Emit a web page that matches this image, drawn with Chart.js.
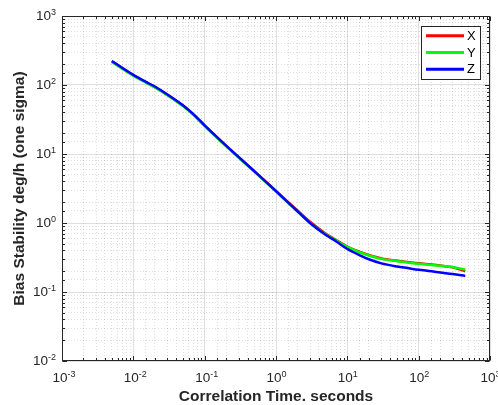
<!DOCTYPE html>
<html>
<head>
<meta charset="utf-8">
<script src="https://cdn.jsdelivr.net/npm/chart.js@4.4.1/dist/chart.umd.min.js"></script>
<style>
  html, body { margin: 0; padding: 0; background: #fff; }
  #wrap { width: 498px; height: 405px; }
</style>
</head>
<body>
<div id="wrap"><canvas id="biasChart" width="498" height="405"></canvas></div>
<script>
// Correlation time (s) and bias stability (deg/h, one sigma) per axis
const tau   = [0.005, 0.007, 0.01, 0.015, 0.02, 0.03, 0.05, 0.07, 0.1, 0.2, 0.5, 1, 2, 3, 5, 7, 10, 15, 20, 30, 50, 70, 100, 150, 200, 300, 450];
const biasX = [220, 175, 138, 110, 93, 72, 50, 37.2, 25.7, 13.1, 5.6, 2.92, 1.52, 1.04, 0.7, 0.565, 0.455, 0.38, 0.343, 0.306, 0.284, 0.272, 0.26, 0.25, 0.242, 0.228, 0.2];
const biasY = [216, 172, 136, 108, 92, 71, 49, 36.8, 25.3, 12.9, 5.5, 2.85, 1.47, 1.0, 0.68, 0.555, 0.45, 0.375, 0.338, 0.302, 0.28, 0.268, 0.256, 0.247, 0.24, 0.229, 0.212];
const biasZ = [223, 177, 140, 111, 95, 73, 50.5, 37.5, 26, 13.2, 5.6, 2.9, 1.48, 1.0, 0.67, 0.54, 0.42, 0.34, 0.298, 0.26, 0.234, 0.222, 0.21, 0.2, 0.192, 0.182, 0.171];
const seriesNames = ['X', 'Y', 'Z'];

// decade tick labels (exponents of 10)
const xTickExps = [-3, -2, -1, 0, 1, 2, 3];
const yTickExps = [-2, -1, 0, 1, 2, 3];

const FONT = '"Liberation Sans", Arial, Helvetica, sans-serif';
const AXIS_COLOR = '#262626';
const MAJOR_GRID = 'rgba(38,38,38,0.15)';
const MINOR_GRID = 'rgba(38,38,38,0.15)';

const isDecade = v => Math.abs(Math.log10(v) - Math.round(Math.log10(v))) < 1e-6;
const toPoints = ys => ys.map((y, i) => ({ x: tau[i], y: y }));

// draws "10" with a raised exponent
function drawPow(ctx, x, y, exp, align) {
  const base = '10';
  const sup = String(exp);
  ctx.font = '13.5px ' + FONT;
  const wb = ctx.measureText(base).width;
  ctx.font = '9px ' + FONT;
  const ws = ctx.measureText(sup).width;
  let left;
  if (align === 'right') left = x - wb - ws;
  else left = x - wb / 2 - 2;
  ctx.fillStyle = AXIS_COLOR;
  ctx.textAlign = 'left';
  ctx.font = '13.5px ' + FONT;
  ctx.textBaseline = 'middle';
  ctx.fillText(base, left, y);
  ctx.font = '9px ' + FONT;
  ctx.textBaseline = 'alphabetic';
  ctx.fillText(sup, left + wb, y - 1.5);
}

const matlabAxes = {
  id: 'matlabAxes',
  afterDraw(chart) {
    const ctx = chart.ctx;
    const a = chart.chartArea;
    const xs = chart.scales.x;
    const ys = chart.scales.y;
    ctx.save();

    // box
    ctx.strokeStyle = AXIS_COLOR;
    ctx.lineWidth = 1;
    const L = Math.round(a.left) + 0.5, R = Math.round(a.right) - 0.5;
    const T = Math.round(a.top) + 0.5, B = Math.round(a.bottom) - 0.5;
    ctx.strokeRect(L, T, R - L, B - T);

    // inward ticks on all four sides
    ctx.beginPath();
    xs.ticks.forEach(t => {
      const px = Math.round(xs.getPixelForValue(t.value)) + 0.5;
      const len = isDecade(t.value) ? 4.5 : 2.5;
      ctx.moveTo(px, B); ctx.lineTo(px, B - len);
      ctx.moveTo(px, T); ctx.lineTo(px, T + len);
    });
    ys.ticks.forEach(t => {
      const py = Math.round(ys.getPixelForValue(t.value)) + 0.5;
      const len = isDecade(t.value) ? 4.5 : 2.5;
      ctx.moveTo(L, py); ctx.lineTo(L + len, py);
      ctx.moveTo(R, py); ctx.lineTo(R - len, py);
    });
    ctx.stroke();

    // tick labels
    xTickExps.forEach(e => {
      drawPow(ctx, xs.getPixelForValue(Math.pow(10, e)), a.bottom + 17, e, 'center');
    });
    yTickExps.forEach(e => {
      drawPow(ctx, a.left - 6, ys.getPixelForValue(Math.pow(10, e)), e, 'right');
    });

    // axis titles
    ctx.fillStyle = AXIS_COLOR;
    ctx.font = 'bold 15.5px ' + FONT;
    ctx.textAlign = 'center';
    ctx.textBaseline = 'middle';
    ctx.fillText('Correlation Time. seconds', (a.left + a.right) / 2, 397);
    ctx.save();
    ctx.translate(20, (a.top + a.bottom) / 2);
    ctx.rotate(-Math.PI / 2);
    ctx.fillText('Bias Stability deg/h (one sigma)', 0, 0);
    ctx.restore();

    // legend box in the upper right corner
    const bx = 421.5, by = 26.5, bw = 59, bh = 53;
    ctx.fillStyle = '#fff';
    ctx.fillRect(bx, by, bw, bh);
    ctx.strokeStyle = AXIS_COLOR;
    ctx.lineWidth = 1;
    ctx.strokeRect(bx, by, bw, bh);
    const rows = [35.7, 52.5, 69.3];
    chart.data.datasets.forEach((ds, i) => {
      ctx.strokeStyle = ds.borderColor;
      ctx.lineWidth = 3;
      ctx.beginPath();
      ctx.moveTo(426, rows[i]);
      ctx.lineTo(464, rows[i]);
      ctx.stroke();
      ctx.fillStyle = '#000';
      ctx.font = '13px ' + FONT;
      ctx.textAlign = 'left';
      ctx.textBaseline = 'middle';
      ctx.fillText(ds.label, 467, rows[i] + 0.5);
    });

    ctx.restore();
  }
};

const logAxis = (pos, min, max, gridColor, dash) => ({
  type: 'logarithmic',
  position: pos,
  min: min,
  max: max,
  grid: { color: gridColor, drawTicks: false, lineWidth: 1 },
  border: { display: false, dash: dash },
  ticks: { display: false }
});
const minorColor = c => (c.tick && !isDecade(c.tick.value)) ? MINOR_GRID : 'transparent';
const majorColor = c => (c.tick && isDecade(c.tick.value)) ? MAJOR_GRID : 'transparent';

new Chart(document.getElementById('biasChart'), {
  type: 'line',
  data: {
    datasets: [
      { label: seriesNames[0], data: toPoints(biasX), borderColor: '#ff0000', order: 3 },
      { label: seriesNames[1], data: toPoints(biasY), borderColor: '#00ff00', order: 2 },
      { label: seriesNames[2], data: toPoints(biasZ), borderColor: '#0000ff', order: 1 }
    ]
  },
  options: {
    responsive: false,
    animation: false,
    devicePixelRatio: 1,
    layout: { padding: { left: 62, right: 8, top: 16, bottom: 44 } },
    elements: {
      line: { borderWidth: 2.5, cubicInterpolationMode: 'monotone', fill: false },
      point: { radius: 0 }
    },
    scales: {
      x: logAxis('bottom', 1e-3, 1e3, minorColor, [1, 2]),
      xMajor: logAxis('bottom', 1e-3, 1e3, majorColor, []),
      y: logAxis('left', 1e-2, 1e3, minorColor, [1, 2]),
      yMajor: logAxis('left', 1e-2, 1e3, majorColor, [])
    },
    plugins: {
      legend: { display: false },
      tooltip: { enabled: false }
    }
  },
  plugins: [matlabAxes]
});
</script>
</body>
</html>
